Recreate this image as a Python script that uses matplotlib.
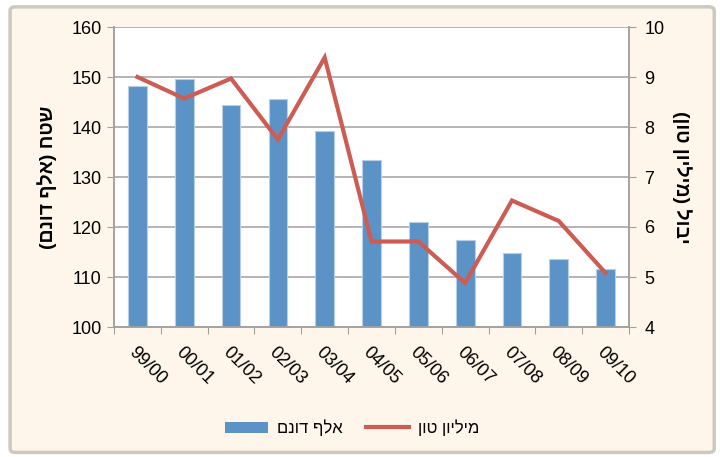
import matplotlib.pyplot as plt
from matplotlib.patches import FancyBboxPatch
from matplotlib.lines import Line2D
from matplotlib.patches import Patch

plt.rcParams['font.family'] = ['Liberation Sans', 'DejaVu Sans']

seasons = ["99/00", "00/01", "01/02", "02/03", "03/04", "04/05",
           "05/06", "06/07", "07/08", "08/09", "09/10"]
area = [148.2, 149.6, 144.5, 145.7, 139.3, 133.4, 121.0, 117.4, 114.9, 113.6, 111.7]
crop = [9.0, 8.57, 8.97, 7.75, 9.39, 5.71, 5.71, 4.88, 6.53, 6.12, 5.08]

area_name = "אלף דונם"
crop_name = "מיליון טון"
left_title = "שטח (אלף דונם)"
right_title = "יבול (מיליון טון)"


def vis(s):
    # matplotlib has no bidi support: reverse Hebrew into visual order
    s = s[::-1]
    return s.translate(str.maketrans("()", ")("))


bar_col = "#5B93C7"
line_col = "#CD5C55"
grid_col = "#A0A0A0"
fs = 13

fig = plt.figure(figsize=(7.2, 4.57), dpi=100)
fig.patch.set_facecolor("white")
frame = FancyBboxPatch((0.014, 0.01), 0.978, 0.975, boxstyle="round,pad=0,rounding_size=0.008",
                       transform=fig.transFigure, facecolor="#FEF6EA",
                       edgecolor="#CFC8BE", linewidth=2.5, zorder=-10)
fig.patches.append(frame)

ax = fig.add_axes([114 / 720, 1 - 327 / 457, (629 - 114) / 720, 300 / 457])
x = list(range(len(seasons)))
ax.bar(x, area, width=0.4, color=bar_col, edgecolor="#B7CFE6", linewidth=0.8, zorder=2)
ax.set_ylim(100, 160)
ax.set_xlim(-0.5, len(seasons) - 0.5)
ax.set_yticks(range(100, 161, 10))
ax.yaxis.grid(True, color=grid_col, linewidth=1.1)
ax.set_axisbelow(True)
ax.set_xticks([i - 0.5 for i in range(len(seasons) + 1)])
ax.set_xticklabels([])
ax.set_xticks(x, minor=True)
ax.set_xticklabels(seasons, minor=True, rotation=-45, ha="left", va="top",
                   rotation_mode="anchor", fontsize=fs)
ax.tick_params(axis="x", which="minor", length=0, pad=12)
ax.tick_params(axis="x", which="major", length=5, color=grid_col, direction="out")
ax.tick_params(axis="y", length=5, color=grid_col, labelsize=fs, pad=4)
for s in ax.spines.values():
    s.set_color(grid_col)
    s.set_linewidth(1.1)
ax.spines["top"].set_visible(False)
ax.set_ylabel(vis(left_title), fontsize=14, fontweight="bold", labelpad=10)

ax2 = ax.twinx()
ax2.plot(x, crop, color=line_col, linewidth=3, zorder=3, solid_joinstyle="miter")
ax2.set_ylim(4, 10)
ax2.set_yticks(range(4, 11))
ax2.tick_params(axis="y", length=5, color=grid_col, labelsize=fs, pad=6)
for s in ax2.spines.values():
    s.set_color(grid_col)
    s.set_linewidth(1.1)
ax2.spines["top"].set_visible(False)
ax2.set_ylabel(vis(right_title), fontsize=14, fontweight="bold", rotation=270, labelpad=20)

handles = [Patch(facecolor=bar_col, edgecolor="none"),
           Line2D([], [], color=line_col, linewidth=3)]
fig.legend(handles, [vis(area_name), vis(crop_name)], loc="center",
           bbox_to_anchor=(352 / 720, 1 - 428 / 457), ncol=2, frameon=False,
           fontsize=12, handlelength=2.6, handleheight=0.7, columnspacing=1.4,
           handletextpad=0.5)

fig.savefig("out.png", dpi=100, facecolor=fig.get_facecolor())
